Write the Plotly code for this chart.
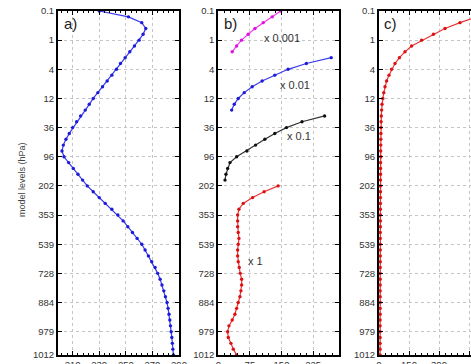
import plotly.graph_objects as go

# ---------------- data ----------------
levels = list(range(1, 61))
tick_levels = [1, 6, 11, 16, 21, 26, 31, 36, 41, 46, 51, 56, 60]
tick_labels = ["0.1", "1", "4", "12", "36", "96", "202", "353", "539", "728", "884", "979", "1012"]

temp_a = [230, 252, 262, 265, 263, 260, 256.5, 253, 249.5, 246,
          243, 239.5, 236, 232.5, 229, 225.5, 222.5, 219.5, 216, 213,
          210, 207.5, 205, 203, 202, 203.5, 207, 210.5, 214, 217.5,
          221, 225.5, 230, 234.5, 239.5, 244, 248, 251.5, 255, 258.5,
          262, 264.5, 267, 269.5, 272, 274, 275.8, 277.2, 278.6, 279.8,
          281, 281.8, 282.5, 283.1, 283.6, 284.1, 284.6, 285, 285.4, 285.8]

lev_magenta = list(range(1, 9))
b_magenta = [148, 128, 106.5, 87, 71, 55, 43.5, 33]
lev_blue = list(range(9, 19))
b_blue = [268, 209, 165.6, 134, 104, 80.4, 61.5, 47.3, 37.9, 31.7]
lev_black = list(range(19, 31))
b_black = [252.4, 198.7, 161.8, 134.1, 110.5, 88.5, 67.9, 43.5, 27.7, 22.2, 18.2, 15.9]
lev_red = list(range(31, 61))
b_red = [142, 108.8, 81.4, 59.1, 49, 45.9, 45.9, 45.9, 47.3, 49,
         47.3, 45.9, 45.9, 47.3, 49.7, 52, 55.4, 55.4, 53.7, 51.3,
         47.3, 43.5, 39.5, 33.1, 25.3, 22.2, 23.7, 30, 35.5, 43.5]

c_red = [570, 485, 405, 330, 272, 213, 163, 130, 102, 80,
         63, 50, 38, 30, 24, 19, 15, 13, 11.5, 10.5,
         10, 9.5, 9, 9, 8.5, 8.5, 8, 8, 8, 7.5,
         7.5, 7.5, 7.5, 7, 7, 7, 7, 7, 6.5, 6.5,
         6.5, 6.5, 6.5, 6.5, 6, 6, 6, 6, 6, 6,
         6, 6, 6, 5.5, 5.5, 5.5, 5.5, 5.5, 5.5, 5.5]

scale_labels = ["x 0.001", "x 0.01", "x 0.1", "x 1"]
panel_labels = ["a)", "b)", "c)"]

# ---------------- figure ----------------
W, H = 471, 364
TOP, BOT = 11, 355
FONT = "Liberation Sans, Arial, sans-serif"

def px_x(p):
    return p / W

def px_y(p):
    return (BOT - p) / (BOT - TOP)

fig = go.Figure()

def add_series(x, y, color, mcolor, xa, ya):
    fig.add_trace(go.Scatter(
        x=x, y=y, mode="lines+markers", xaxis=xa, yaxis=ya,
        line=dict(color=color, width=1.2),
        marker=dict(color=mcolor, size=3.4),
        showlegend=False, cliponaxis=True))

add_series(temp_a, levels, "#3b3bf0", "#1c1cd8", "x", "y")
add_series(b_magenta, lev_magenta, "#f03cf0", "#e010e0", "x2", "y2")
add_series(b_blue, lev_blue, "#3b3bf0", "#1c1cd8", "x2", "y2")
add_series(b_black, lev_black, "#333333", "#111111", "x2", "y2")
add_series(b_red, lev_red, "#ee3333", "#dd1111", "x2", "y2")
add_series(c_red, levels, "#ee3333", "#dd1111", "x3", "y3")

tickfont = dict(family=FONT, size=9.5, color="#333333")
GRID = "#c4c4c4"

def xaxis(domain, rng, tick0, dtick, minor_dtick, anchor):
    return dict(domain=domain, range=rng, dtick=dtick, tick0=tick0, anchor=anchor,
                automargin=False, ticklabelstandoff=0,
                showline=True, linecolor="black", linewidth=2, mirror="ticks",
                ticks="inside", ticklen=4, tickcolor="black", tickwidth=1,
                minor=dict(ticks="inside", ticklen=2, dtick=minor_dtick, tick0=tick0,
                           tickcolor="black", showgrid=False),
                showgrid=True, gridcolor=GRID, griddash="dot", gridwidth=1,
                zeroline=False, tickfont=tickfont)

def yaxis(anchor, mirror="ticks"):
    return dict(domain=[0, 1], range=[60, 1], anchor=anchor, automargin=False,
                tickmode="array", tickvals=tick_levels, ticktext=tick_labels,
                showline=True, linecolor="black", linewidth=2, mirror=mirror,
                ticks="inside", ticklen=4, tickcolor="black", tickwidth=1,
                showgrid=True, gridcolor=GRID, griddash="dot", gridwidth=1,
                zeroline=False, tickfont=tickfont)

fig.update_layout(
    width=W, height=H,
    margin=dict(l=0, r=0, t=TOP, b=H - BOT, autoexpand=False),
    paper_bgcolor="white", plot_bgcolor="white",
    xaxis=xaxis([58 / W, 179 / W], [199, 290], 210, 20, 4, "y"),
    xaxis2=xaxis([218.3 / W, 339 / W], [0, 286.5], 0, 75, 15, "y2"),
    xaxis3=xaxis([379 / W, 1.0], [0, 460], 0, 150, 30, "y3"),
    yaxis=yaxis("x"),
    yaxis2=yaxis("x2"),
    yaxis3=yaxis("x3", mirror=False),
)

ann = []
for lab, xp in zip(panel_labels, [62, 222, 382]):
    ann.append(dict(text=lab, x=px_x(xp), y=px_y(13), xref="paper", yref="paper",
                    xanchor="left", yanchor="top", showarrow=False,
                    font=dict(family=FONT, size=15, color="#222222")))

for lab, (xp, yp) in zip(scale_labels, [(262, 38), (278, 85), (285, 136), (246, 261)]):
    ann.append(dict(text=lab, x=px_x(xp), y=px_y(yp), xref="paper", yref="paper",
                    xanchor="left", yanchor="middle", showarrow=False,
                    font=dict(family=FONT, size=11, color="#333333")))

ann.append(dict(text="model levels (hPa)", x=px_x(22), y=px_y(180), xref="paper", yref="paper",
                xanchor="center", yanchor="middle", textangle=-90, showarrow=False,
                font=dict(family=FONT, size=9, color="#444444")))

fig.update_layout(annotations=ann)

fig.write_html("out.html")
